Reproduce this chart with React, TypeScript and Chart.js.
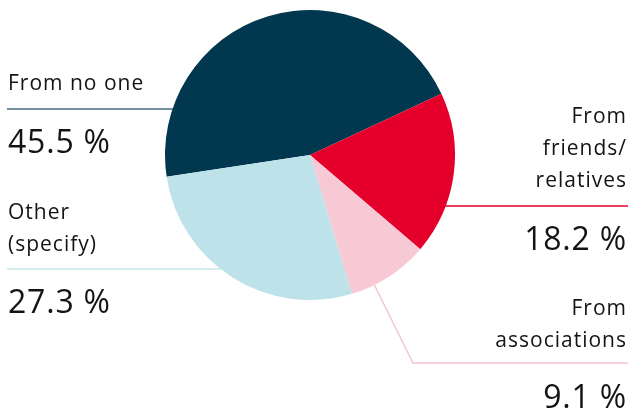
import { useEffect, useRef } from "react";
import { Chart, registerables } from "chart.js";

Chart.register(...registerables);

const categories = ["From no one", "From friends/relatives", "From associations", "Other (specify)"];
const values = [45.5, 18.2, 9.1, 27.3];
const valueLabels = ["45.5 %", "18.2 %", "9.1 %", "27.3 %"];
const labelLines = [["From no one"], ["From", "friends/", "relatives"], ["From", "associations"], ["Other", "(specify)"]];
const sliceColors = ["#02384f", "#e4002b", "#f7c9d4", "#bde2e9"];
const leaderColors = ["#4a6b7e", "#e4002b", "#f5c3cf", "#c9e7ed"];

// label layout (canvas pixels)
const labelLayout = [
  { side: "left", x: 8, first: 90, lineY: 109, valueY: 153, elbowX: 0 },
  { side: "right", x: 627, first: 123, lineY: 206, valueY: 250, elbowX: 0 },
  { side: "right", x: 627, first: 315, lineY: 363, valueY: 408, elbowX: 413 },
  { side: "left", x: 8, first: 219, lineY: 269, valueY: 313, elbowX: 0 },
];
const LINE_GAP = 32;
const FONT = "'Open Sans', 'DejaVu Sans', sans-serif";

const leaderPlugin = {
  id: "leaders",
  beforeDatasetsDraw(chart: any) {
    const meta = chart.getDatasetMeta(0);
    const arc = meta.data[0];
    if (!arc) return;
    const cx = arc.x, cy = arc.y, r = arc.outerRadius;
    const ctx = chart.ctx;
    ctx.save();
    ctx.lineWidth = 1.4;
    labelLayout.forEach((L, i) => {
      ctx.strokeStyle = leaderColors[i];
      ctx.beginPath();
      if (L.elbowX) {
        const dx = L.elbowX - cx, dy = L.lineY - cy;
        const d = Math.hypot(dx, dy);
        const ex = cx + (dx / d) * (r - 1), ey = cy + (dy / d) * (r - 1);
        ctx.moveTo(628, L.lineY);
        ctx.lineTo(L.elbowX, L.lineY);
        ctx.lineTo(ex, ey);
      } else {
        const dy = L.lineY - cy;
        const half = Math.sqrt(Math.max(0, r * r - dy * dy)) - 2;
        if (L.side === "left") {
          ctx.moveTo(7, L.lineY);
          ctx.lineTo(cx - half, L.lineY);
        } else {
          ctx.moveTo(628, L.lineY);
          ctx.lineTo(cx + half, L.lineY);
        }
      }
      ctx.stroke();
    });
    ctx.restore();
  },
  afterDraw(chart: any) {
    const ctx = chart.ctx;
    ctx.save();
    ctx.fillStyle = "#141414";
    ctx.textBaseline = "alphabetic";
    labelLayout.forEach((L, i) => {
      ctx.textAlign = L.side === "left" ? "left" : "right";
      ctx.font = `21px ${FONT}`;
      ctx.letterSpacing = "1px";
      labelLines[i].forEach((t, j) => {
        ctx.fillText(t, L.x, L.first + j * LINE_GAP);
      });
      ctx.font = `32px ${FONT}`;
      ctx.letterSpacing = "0.8px";
      ctx.fillText(valueLabels[i], L.x, L.valueY);
    });
    ctx.restore();
  },
};

export default function App() {
  const ref = useRef<HTMLCanvasElement>(null);
  useEffect(() => {
    document.body.style.margin = "0";
    const chart = new Chart(ref.current!, {
      type: "pie",
      data: {
        labels: categories,
        datasets: [
          {
            data: values,
            backgroundColor: sliceColors,
            borderWidth: 0,
          },
        ],
      },
      options: {
        responsive: false,
        animation: false,
        rotation: -98.6,
        layout: { padding: { left: 165, right: 175, top: 10, bottom: 112 } },
        plugins: { legend: { display: false }, tooltip: { enabled: false } },
      },
      plugins: [leaderPlugin],
    });
    return () => chart.destroy();
  }, []);
  return (
    <div style={{ width: 630, height: 412 }}>
      <canvas ref={ref} width={630} height={412} />
    </div>
  );
}
